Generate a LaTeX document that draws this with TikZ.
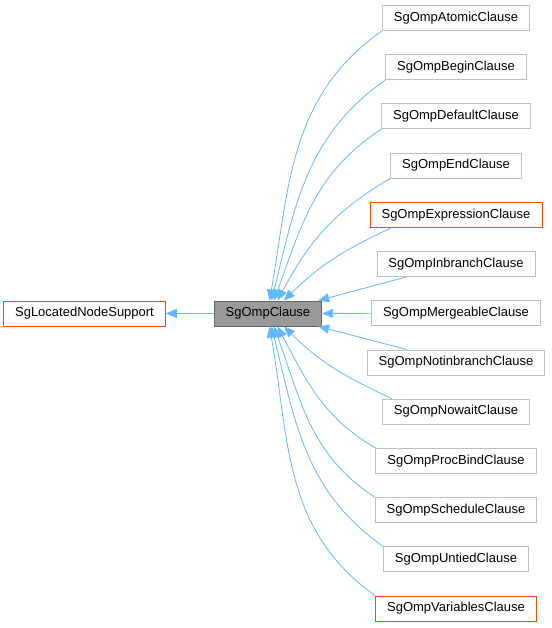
\documentclass[tikz,border=0pt]{standalone}
\usepackage{fontspec}
\setmainfont{Liberation Sans}
\usetikzlibrary{arrows.meta,positioning}
\definecolor{edgeblue}{HTML}{63B8FF}
\definecolor{boxgrey}{HTML}{BFBFBF}
\definecolor{boxred}{HTML}{FF4500}
\definecolor{nodegrey}{HTML}{999999}
\definecolor{nodeframe}{HTML}{666666}

\begin{document}
\begin{tikzpicture}[
  x=1pt, y=1pt,
  font=\fontsize{13}{15}\selectfont,
  node distance=23.4pt and 48pt,
  cls/.style={
    draw=boxgrey,
    line width=0.8pt,
    fill=white,
    inner xsep=11.5pt,
    inner ysep=0pt,
    minimum height=25pt
  },
  undoc/.style={cls, draw=boxred},
  focus/.style={cls, draw=nodeframe, fill=nodegrey},
  inh/.style={draw=edgeblue, line width=0.8pt, -{Triangle[length=11pt,width=9pt]}}
]
\useasboundingbox (0,0) rectangle (551,-628);

\node[undoc] (located) at (84.5,-313.5) {SgLocatedNodeSupport};
\node[focus, right=of located] (clause) {SgOmpClause};

\node[cls] (atomic) at (456,-18) {SgOmpAtomicClause};
\node[cls, below=of atomic] (begin) {SgOmpBeginClause};
\node[cls, below=of begin] (default) {SgOmpDefaultClause};
\node[cls, below=of default] (end) {SgOmpEndClause};
\node[undoc, below=of end] (expression) {SgOmpExpressionClause};
\node[cls, below=of expression] (inbranch) {SgOmpInbranchClause};
\node[cls, below=of inbranch] (mergeable) {SgOmpMergeableClause};
\node[cls, below=of mergeable] (notinbranch) {SgOmpNotinbranchClause};
\node[cls, below=of notinbranch] (nowait) {SgOmpNowaitClause};
\node[cls, below=of nowait] (procbind) {SgOmpProcBindClause};
\node[cls, below=of procbind] (schedule) {SgOmpScheduleClause};
\node[cls, below=of schedule] (untied) {SgOmpUntiedClause};
\node[undoc, below=of untied] (variables) {SgOmpVariablesClause};

\draw[inh] (clause) -- (located);

\draw[inh] (atomic.south west) to[out=215, in=80] ([xshift=1.5pt]clause.north);
\draw[inh] (begin.south west) to[out=215, in=76] ([xshift=3.5pt]clause.north);
\draw[inh] (default.south west) to[out=213, in=70] ([xshift=6pt]clause.north);
\draw[inh] (end.south west) to[out=210, in=62] ([xshift=9.5pt]clause.north);
\draw[inh] ([xshift=22pt]expression.south west) to[out=205, in=45] ([xshift=16pt]clause.north);
\draw[inh] ([xshift=30pt]inbranch.south west) -- ([xshift=-4pt]clause.north east);
\draw[inh] (mergeable) -- (clause);
\draw[inh] ([xshift=40pt]notinbranch.north west) -- ([xshift=-4pt]clause.south east);
\draw[inh] ([xshift=10pt]nowait.north west) to[out=155, in=-45] ([xshift=16pt]clause.south);
\draw[inh] (procbind.north west) to[out=150, in=-62] ([xshift=9.5pt]clause.south);
\draw[inh] (schedule.north west) to[out=147, in=-70] ([xshift=6pt]clause.south);
\draw[inh] (untied.north west) to[out=145, in=-76] ([xshift=3.5pt]clause.south);
\draw[inh] (variables.north west) to[out=145, in=-80] ([xshift=1.5pt]clause.south);
\end{tikzpicture}
\end{document}
